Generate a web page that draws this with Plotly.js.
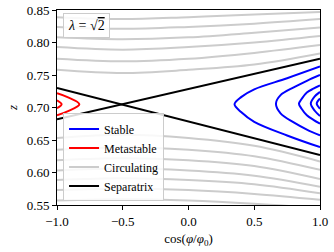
<!DOCTYPE html>
<html><head><meta charset="utf-8">
<script src="https://cdn.plot.ly/plotly-3.0.1.min.js"></script>
<style>html,body{margin:0;padding:0;background:#fff}#chart{width:334px;height:252px}</style>
</head><body><div id="chart"></div>
<script>
// x = cos(phi/phi0) sample positions for circulating curves
const circC = [-1, -0.5, 0, 0.5, 1];
// circulating orbits above the separatrix (z values at circC)
const circUpper = [
  [0.758, 0.753, 0.758, 0.766, 0.783],
  [0.775, 0.771, 0.775, 0.784, 0.796],
  [0.793, 0.789, 0.793, 0.800, 0.810],
  [0.808, 0.805, 0.808, 0.815, 0.823],
  [0.824, 0.821, 0.824, 0.829, 0.836],
  [0.839, 0.836, 0.839, 0.843, 0.847]
];
// circulating orbits below the separatrix
const circLower = [
  [0.653, 0.658, 0.653, 0.641, 0.617],
  [0.635, 0.639, 0.635, 0.625, 0.604],
  [0.619, 0.622, 0.619, 0.610, 0.590],
  [0.603, 0.606, 0.603, 0.595, 0.578],
  [0.5885, 0.591, 0.5885, 0.582, 0.568],
  [0.573, 0.575, 0.573, 0.567, 0.558],
  [0.557, 0.559, 0.557, 0.552, 0.545]
];
// stable orbits (closed at cos = 1)
const stableC = [
  [1, 0.75, 0.5, 0.4, 0.35, 0.4, 0.5, 0.75, 1],
  [1, 0.9, 0.8, 0.7, 0.665, 0.7, 0.8, 0.9, 1],
  [1, 0.95, 0.9, 0.86, 0.84, 0.86, 0.9, 0.95, 1],
  [1, 0.96, 0.93, 0.96, 1],
  [1, 0.975, 1]
];
const stableZ = [
  [0.763, 0.745, 0.728, 0.716, 0.705, 0.693, 0.678, 0.657, 0.639],
  [0.750, 0.741, 0.731, 0.719, 0.706, 0.691, 0.677, 0.666, 0.657],
  [0.734, 0.729, 0.723, 0.713, 0.706, 0.698, 0.688, 0.681, 0.675],
  [0.724, 0.717, 0.706, 0.695, 0.687],
  [0.714, 0.706, 0.698]
];
// metastable orbits (closed at cos = -1)
const metaC = [
  [-1, -0.92, -0.83, -0.92, -1],
  [-1, -0.965, -1]
];
const metaZ = [
  [0.722, 0.716, 0.705, 0.694, 0.688],
  [0.711, 0.705, 0.699]
];
// separatrix
const sepC = [-1, 1];
const sepZ = [
  [0.682, 0.775],
  [0.730, 0.627]
];

const FONT = '"Liberation Serif", "DejaVu Serif", serif';
const traces = [];
stableC.forEach((c, i) => traces.push({x: c, y: stableZ[i], mode: 'lines', line: {color: '#0000ff', width: 2, shape: 'spline'}, name: 'Stable', legendgroup: 'st', showlegend: i === 0}));
metaC.forEach((c, i) => traces.push({x: c, y: metaZ[i], mode: 'lines', line: {color: '#ff0000', width: 2, shape: 'spline'}, name: 'Metastable', legendgroup: 'me', showlegend: i === 0}));
circUpper.concat(circLower).forEach((z, i) => traces.push({x: circC, y: z, mode: 'lines', line: {color: '#cccccc', width: 2, shape: 'spline'}, name: 'Circulating', legendgroup: 'ci', showlegend: i === 0}));
sepZ.forEach((z, i) => traces.push({x: sepC, y: z, mode: 'lines', line: {color: '#000000', width: 2}, name: 'Separatrix', legendgroup: 'se', showlegend: i === 0}));

const layout = {
  width: 334, height: 252,
  margin: {l: 57, r: 14, t: 10, b: 47},
  paper_bgcolor: '#fff', plot_bgcolor: '#fff',
  font: {family: FONT, size: 13, color: '#000'},
  showlegend: true,
  legend: {x: 0.023, y: 0.018, xanchor: 'left', yanchor: 'bottom', bgcolor: 'rgba(255,255,255,0.85)', bordercolor: '#cccccc', borderwidth: 1, font: {family: FONT, size: 12}, tracegroupgap: 0},
  xaxis: {range: [-1, 1], tickvals: [-1, -0.5, 0, 0.5, 1], ticktext: ['\u22121.0', '\u22120.5', '0.0', '0.5', '1.0'], ticks: 'outside', ticklen: 4, tickcolor: '#000', showgrid: false, zeroline: false, showline: true, linecolor: '#000', linewidth: 1, mirror: true,
    tickfont: {family: FONT, size: 13},
    title: {text: 'cos(<i>φ</i>/<i>φ</i><sub>0</sub>)', font: {family: FONT, size: 13}, standoff: 6}},
  yaxis: {range: [0.55, 0.85], tickvals: [0.55, 0.6, 0.65, 0.7, 0.75, 0.8, 0.85], ticktext: ['0.55', '0.60', '0.65', '0.70', '0.75', '0.80', '0.85'], ticks: 'outside', ticklen: 4, tickcolor: '#000', showgrid: false, zeroline: false, showline: true, linecolor: '#000', linewidth: 1, mirror: true,
    tickfont: {family: FONT, size: 13},
    title: {text: '<i>z</i>', font: {family: FONT, size: 13}, standoff: 6}},
  annotations: [{xref: 'paper', yref: 'paper', x: 0.023, y: 0.985, xanchor: 'left', yanchor: 'top', showarrow: false,
    text: '<i>λ</i> = √<span style="text-decoration:overline">2</span>', font: {family: FONT, size: 14},
    bgcolor: 'rgba(255,255,255,0.85)', bordercolor: '#cccccc', borderwidth: 1, borderpad: 4}]
};
Plotly.newPlot('chart', traces, layout, {displayModeBar: false, staticPlot: true});
</script></body></html>
